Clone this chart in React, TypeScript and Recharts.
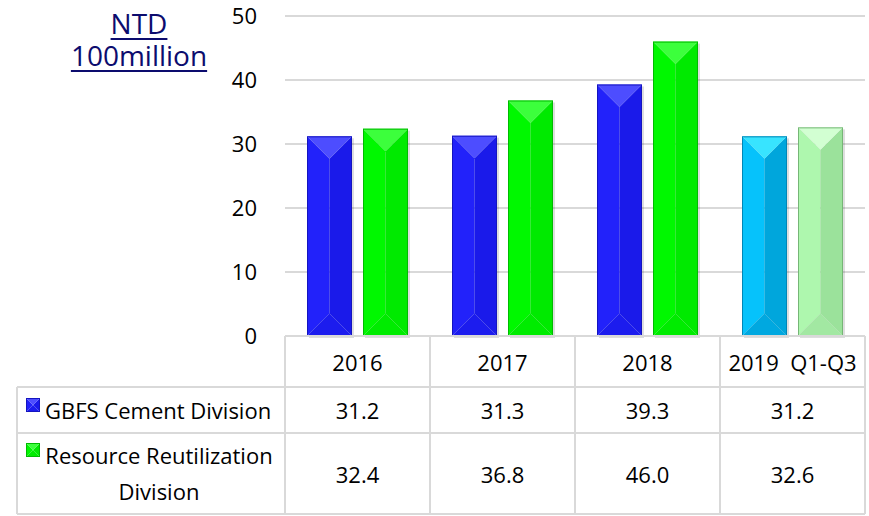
import React from 'react';
import { BarChart, Bar, XAxis, YAxis, CartesianGrid, Cell } from 'recharts';

// ---- data ----
const categories = ['2016', '2017', '2018', '2019  Q1-Q3'];
const gbfsValues = [31.2, 31.3, 39.3, 31.2];
const resourceValues = [32.4, 36.8, 46.0, 32.6];
const seriesLabels = [['GBFS Cement Division'], ['Resource Reutilization', 'Division']];
const yTicks = [0, 10, 20, 30, 40, 50];
const titleLines = ['NTD', '100million'];

const data = categories.map((c, i) => ({ category: c, gbfs: gbfsValues[i], resource: resourceValues[i] }));

// ---- styles ----
const W = 869;
const H = 516;
const FONT = '"Open Sans", "Noto Sans", sans-serif';
const LINE = '#d9d9d9';
const gbfsColors = ['#2020f4', '#2020f4', '#2020f4', '#00b8ec'];
const resourceColors = ['#00ee00', '#00ee00', '#00ee00', '#a8eea8'];

const PALETTES: Record<string, { top: string; left: string; right: string; bottom: string; edge: string }> = {
  '#2020f4': { top: '#4d4dff', left: '#2222fa', right: '#1a1aea', bottom: '#1c1cee', edge: '#1414c0' },
  '#00ee00': { top: '#3cff3c', left: '#00f800', right: '#00ea00', bottom: '#00ec00', edge: '#00bb00' },
  '#00b8ec': { top: '#38e4ff', left: '#06c2fb', right: '#00a6dc', bottom: '#00a8e0', edge: '#0086b6' },
  '#a8eea8': { top: '#d2ffd2', left: '#aef7ae', right: '#9be29b', bottom: '#a2e8a2', edge: '#76b676' },
};

function BevelRect({ x, y, w, h, color, shadow }: { x: number; y: number; w: number; h: number; color: string; shadow?: boolean }) {
  const p = PALETTES[color] || PALETTES['#2020f4'];
  const d = Math.min(w / 2, h / 2);
  const cx = x + w / 2;
  return (
    <g>
      {shadow && <rect x={x + 2} y={y + 2} width={w} height={h} fill="rgba(0,0,0,0.13)" />}
      <polygon points={`${x},${y} ${cx},${y + d} ${cx},${y + h - d} ${x},${y + h}`} fill={p.left} />
      <polygon points={`${x + w},${y} ${x + w},${y + h} ${cx},${y + h - d} ${cx},${y + d}`} fill={p.right} />
      <polygon points={`${x},${y} ${x + w},${y} ${cx},${y + d}`} fill={p.top} />
      <polygon points={`${x},${y + h} ${cx},${y + h - d} ${x + w},${y + h}`} fill={p.bottom} />
      <rect x={x + 0.5} y={y + 0.5} width={w - 1} height={h - 1} fill="none" stroke={p.edge} strokeWidth={1} />
    </g>
  );
}

function BevelBar(props: any) {
  const { x, y, width, height, fill } = props;
  if (!height || height <= 0) return null;
  return <BevelRect x={x} y={y} w={width} h={height} color={fill} shadow />;
}

// table rows (y positions)
const AXIS_Y = 336;
const ROW1_Y = 387;
const ROW2_Y = 433;
const BOTTOM_Y = 514;
const LEFT_X = 17;

function TableColumn(props: any) {
  const { payload, index, visibleTicksCount } = props;
  const cx = payload.coordinate;
  const half = 72.5;
  const x0 = cx - half;
  const x1 = cx + half;
  const txt = { fontFamily: FONT, fontSize: 22, fill: '#000' } as const;
  const isFirst = index === 0;
  return (
    <g>
      <line x1={x0} y1={AXIS_Y} x2={x0} y2={BOTTOM_Y} stroke={LINE} strokeWidth={2} />
      {index === (visibleTicksCount ?? categories.length) - 1 && (
        <line x1={x1} y1={AXIS_Y} x2={x1} y2={BOTTOM_Y} stroke={LINE} strokeWidth={2} />
      )}
      <line x1={x0} y1={ROW1_Y} x2={x1} y2={ROW1_Y} stroke={LINE} strokeWidth={2} />
      <line x1={x0} y1={ROW2_Y} x2={x1} y2={ROW2_Y} stroke={LINE} strokeWidth={2} />
      <line x1={x0} y1={BOTTOM_Y} x2={x1} y2={BOTTOM_Y} stroke={LINE} strokeWidth={2} />
      <text x={cx} y={362} textAnchor="middle" dominantBaseline="central" style={txt} xmlSpace="preserve">
        {payload.value}
      </text>
      <text x={cx} y={410} textAnchor="middle" dominantBaseline="central" style={txt}>
        {gbfsValues[index].toFixed(1)}
      </text>
      <text x={cx} y={474} textAnchor="middle" dominantBaseline="central" style={txt}>
        {resourceValues[index].toFixed(1)}
      </text>
      {isFirst && (
        <g>
          <line x1={LEFT_X} y1={ROW1_Y} x2={x0} y2={ROW1_Y} stroke={LINE} strokeWidth={2} />
          <line x1={LEFT_X} y1={ROW2_Y} x2={x0} y2={ROW2_Y} stroke={LINE} strokeWidth={2} />
          <line x1={LEFT_X} y1={BOTTOM_Y} x2={x0} y2={BOTTOM_Y} stroke={LINE} strokeWidth={2} />
          <line x1={LEFT_X} y1={ROW1_Y} x2={LEFT_X} y2={BOTTOM_Y} stroke={LINE} strokeWidth={2} />
          <BevelRect x={26} y={398} w={14} h={14} color={gbfsColors[0]} />
          <text x={45} y={410} textAnchor="start" dominantBaseline="central" style={txt}>
            {seriesLabels[0][0]}
          </text>
          <BevelRect x={26} y={443} w={14} h={14} color={resourceColors[0]} />
          <text x={159} y={455} textAnchor="middle" dominantBaseline="central" style={txt}>
            {seriesLabels[1][0]}
          </text>
          <text x={159} y={491} textAnchor="middle" dominantBaseline="central" style={txt}>
            {seriesLabels[1][1]}
          </text>
        </g>
      )}
    </g>
  );
}

export default function App() {
  return (
    <div style={{ position: 'absolute', left: 0, top: 0, width: W, height: H, fontFamily: FONT, background: '#fff' }}>
      <BarChart
        width={W}
        height={H}
        data={data}
        margin={{ top: 16, right: 4, bottom: 0, left: 0 }}
        barSize={45}
        barGap={11}
      >
        <CartesianGrid vertical={false} stroke={LINE} strokeWidth={2} />
        <YAxis
          domain={[0, 50]}
          ticks={yTicks}
          width={285}
          axisLine={false}
          tickLine={false}
          tickMargin={22}
          tick={{ fontSize: 22, fill: '#000', fontFamily: FONT }}
          interval={0}
        />
        <XAxis
          dataKey="category"
          height={180}
          interval={0}
          tickLine={false}
          axisLine={{ stroke: LINE, strokeWidth: 2 }}
          tick={(p: any) => <TableColumn {...p} />}
        />
        <Bar dataKey="gbfs" isAnimationActive={false} shape={(p: any) => <BevelBar {...p} />}>
          {data.map((_, i) => (
            <Cell key={`g${i}`} fill={gbfsColors[i]} />
          ))}
        </Bar>
        <Bar dataKey="resource" isAnimationActive={false} shape={(p: any) => <BevelBar {...p} />}>
          {data.map((_, i) => (
            <Cell key={`r${i}`} fill={resourceColors[i]} />
          ))}
        </Bar>
      </BarChart>
      <div
        style={{
          position: 'absolute',
          left: 39,
          top: 8,
          width: 200,
          textAlign: 'center',
          fontFamily: FONT,
          fontSize: 28,
          lineHeight: '31.5px',
          color: '#0c0c6e',
          textDecoration: 'underline',
          textDecorationThickness: '2px',
          textUnderlineOffset: '4px',
        }}
      >
        {titleLines.map((t) => (
          <div key={t}>{t}</div>
        ))}
      </div>
    </div>
  );
}
